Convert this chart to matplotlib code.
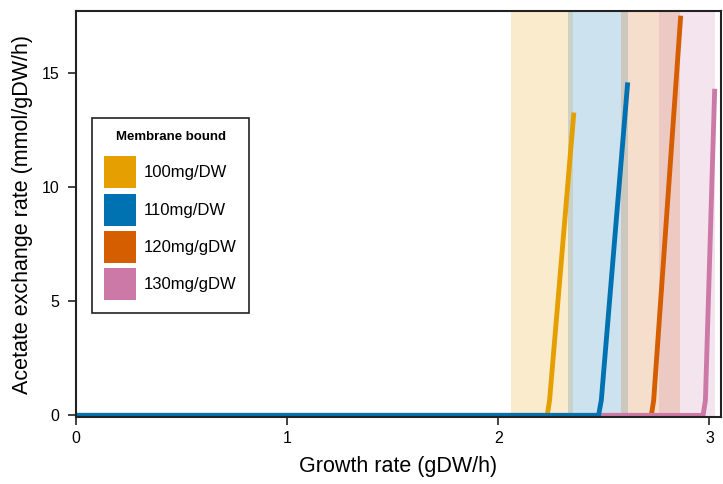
import matplotlib

matplotlib.use("Agg")
import matplotlib.pyplot as plt  # noqa: E402
from matplotlib.patches import Patch  # noqa: E402

plt.rcParams["font.family"] = ["Liberation Sans", "DejaVu Sans"]

LABELS = ["100mg/DW", "110mg/DW", "120mg/gDW", "130mg/gDW"]
COLORS = ["#E69F00", "#0072B2", "#D55E00", "#CC79A7"]

# growth rate / acetate exchange points for each membrane bound
GROWTH = [
    [0.0, 2.232, 2.243, 2.358],
    [0.0, 2.475, 2.488, 2.613],
    [0.0, 2.725, 2.736, 2.864],
    [0.0, 2.970, 2.981, 3.025],
]
ACETATE = [
    [0.0, 0.0, 0.66, 13.26],
    [0.0, 0.0, 0.66, 14.58],
    [0.0, 0.0, 0.66, 17.50],
    [0.0, 0.0, 0.66, 14.30],
]
# shaded growth ranges
SPAN_LO = [2.062, 2.332, 2.583, 2.763]
SPAN_HI = [2.355, 2.616, 2.862, 3.028]

fig = plt.figure(figsize=(7.23, 4.84), dpi=100)
ax = fig.add_axes([0.105, 0.138, 0.892, 0.839])

for lo, hi, c in zip(SPAN_LO, SPAN_HI, COLORS):
    ax.axvspan(lo, hi, color=c, alpha=0.2, lw=0)

# blue drawn last so it sits on top along the zero line
for i in [0, 2, 3, 1]:
    ax.plot(GROWTH[i], ACETATE[i], color=COLORS[i], lw=3.5, solid_capstyle="butt")

ax.set_xlim(0, 3.054)
ax.set_ylim(-0.08, 17.7)
ax.set_xticks([0, 1, 2, 3])
ax.set_yticks([0, 5, 10, 15])
ax.tick_params(labelsize=11.5, length=6, width=1.2, color="#222222")
ax.tick_params(axis="x", pad=4)
ax.tick_params(axis="y", pad=5.8)
ax.set_xlabel("Growth rate (gDW/h)", fontsize=15.5, labelpad=7)
ax.set_ylabel("Acetate exchange rate (mmol/gDW/h)", fontsize=15.5, labelpad=6)
for s in ax.spines.values():
    s.set_linewidth(1.5)
    s.set_color("#222222")

handles = [Patch(facecolor=c, edgecolor="none") for c in COLORS]
leg = ax.legend(
    handles, LABELS, title="Membrane bound\n", loc="upper left",
    bbox_to_anchor=(0.0248, 0.7365), borderaxespad=0, fontsize=12,
    handlelength=1.92, handleheight=2.577, labelspacing=0.32, handletextpad=0.45,
    fancybox=False, framealpha=1, edgecolor="#222222", borderpad=0.75,
)
title = leg.get_title()
title.set_fontweight("bold")
title.set_fontsize(9.5)
title.set_linespacing(0.6)
leg.get_frame().set_linewidth(1.2)

fig.savefig("out.png", dpi=100)
